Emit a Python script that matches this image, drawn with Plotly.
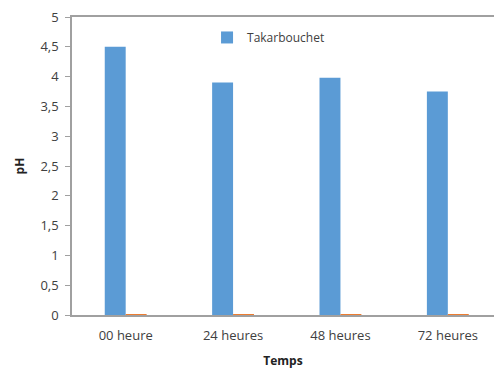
import plotly.graph_objects as go

categories = ["00 heure", "24 heures", "48 heures", "72 heures"]
takarbouchet = [4.5, 3.9, 3.98, 3.75]
second_series = [0.015, 0.015, 0.015, 0.015]
y_ticks = [0, 0.5, 1, 1.5, 2, 2.5, 3, 3.5, 4, 4.5, 5]
y_tick_labels = ["0", "0,5", "1", "1,5", "2", "2,5", "3", "3,5", "4", "4,5", "5"]

font = "Open Sans"

fig = go.Figure()
fig.add_trace(go.Bar(x=categories, y=takarbouchet, name="Takarbouchet",
                     marker=dict(color="#5B9BD5", line=dict(width=0))))
fig.add_trace(go.Bar(x=categories, y=second_series, name="",
                     marker=dict(color="#ED7D31", line=dict(width=0)),
                     showlegend=False))

fig.update_layout(
    width=494, height=369,
    margin=dict(l=72, r=0, t=17, b=54, autoexpand=False),
    paper_bgcolor="white", plot_bgcolor="white",
    barmode="group", bargap=0.61, bargroupgap=0,
    font=dict(family=font, size=12, color="#404040"),
    legend=dict(x=0.32, y=0.98, xanchor="left", yanchor="top",
                bgcolor="rgba(0,0,0,0)", font=dict(size=12, color="#404040"),
                itemwidth=30),
    xaxis=dict(range=[-0.5, 3.43], showline=True, linecolor="#a0a0a0", linewidth=1.5,
               mirror=True, ticks="", showgrid=False, automargin=False,
               ticklabelstandoff=8,
               title=dict(text="<b>Temps</b>", font=dict(size=12, color="#222"), standoff=15),
               tickfont=dict(size=13, color="#404040")),
    yaxis=dict(range=[0, 5], tickvals=y_ticks, ticktext=y_tick_labels,
               showline=True, linecolor="#a0a0a0", linewidth=1.5,
               ticks="outside", ticklen=5, tickcolor="#a0a0a0", showgrid=False,
               zeroline=False, automargin=False, ticklabelstandoff=4,
               title=dict(text="<b>pH</b>", font=dict(size=12, color="#222"), standoff=13),
               tickfont=dict(size=13, color="#404040")),
)

fig.write_html("out.html", post_script="document.body.style.margin='0';",
               config={"displayModeBar": False})
